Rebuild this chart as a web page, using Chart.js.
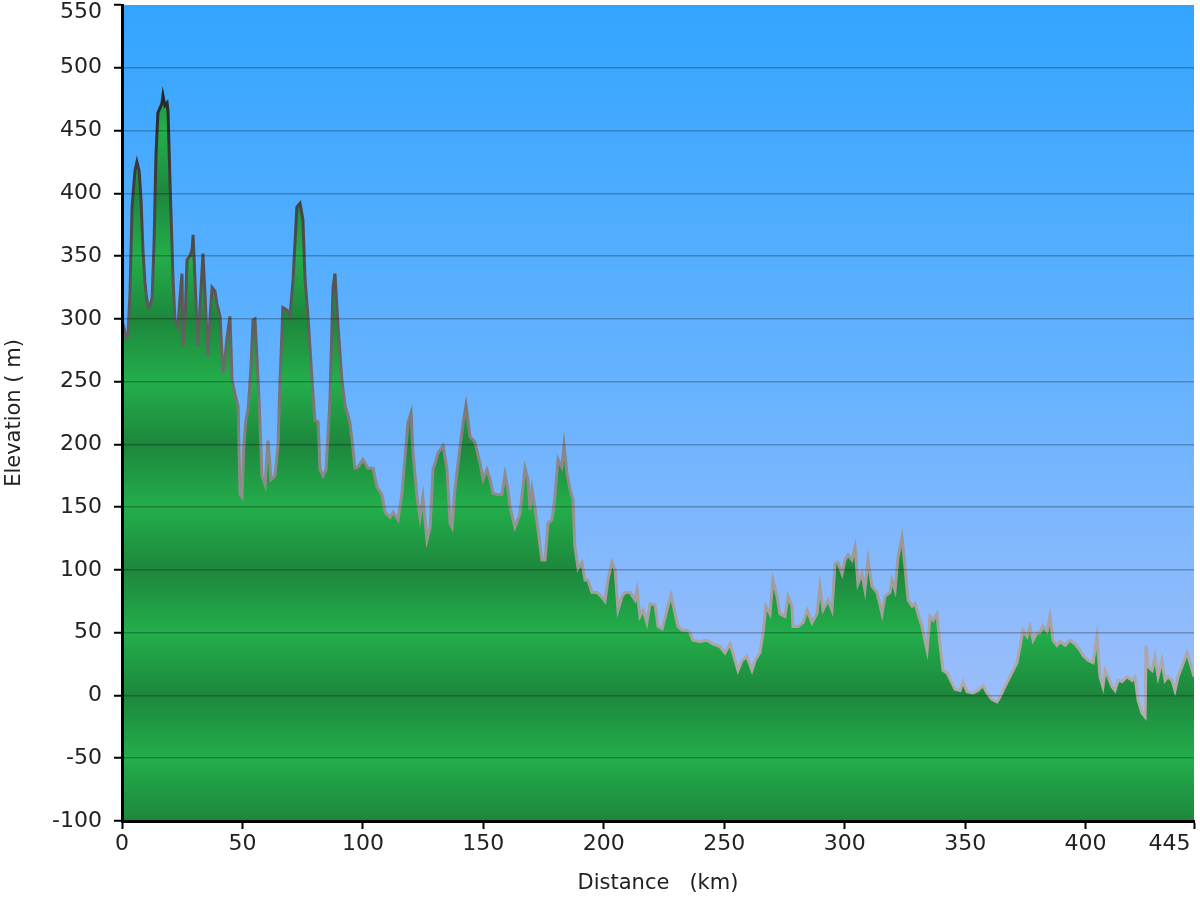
<!DOCTYPE html>
<html>
<head>
<meta charset="utf-8">
<script src="https://cdn.jsdelivr.net/npm/chart.js@4.4.0/dist/chart.umd.min.js"></script>
<style>
  html, body { margin: 0; padding: 0; background: #fff; }
</style>
</head>
<body>
<canvas id="elevChart" width="1200" height="900"></canvas>
<script>
// profile: distance (km) and elevation (m)
let distKm = [
  0, 0.8, 1.7, 2.5, 3.3, 4.2, 5.4, 6.2, 7.1, 7.9, 8.7, 9.5, 10.0, 10.8, 11.6, 12.5,
  13.3, 14.1, 14.9, 15.8, 16.6, 17.0, 17.8, 18.7, 19.1, 19.9, 21.2, 22.0, 23.2, 24.1,
  24.9, 25.3, 26.2, 27.0, 28.2, 29.1, 29.5, 30.3, 31.5, 32.4, 33.6, 34.5, 35.7, 36.5,
  37.4, 38.6, 39.4, 40.7, 41.9, 42.8, 43.6, 44.8, 45.7, 46.9, 48.2, 49.0, 49.8, 50.6,
  51.5, 52.3, 53.5, 54.4, 55.2, 56.0, 56.9, 58.1, 59.4, 60.6, 61.9, 63.5, 64.8, 65.6,
  66.8, 68.5, 69.7, 71.0, 72.6, 73.9, 75.1, 76.0, 77.2, 78.9, 80.1, 81.4, 82.2, 83.4,
  84.7, 86.3, 87.6, 88.4, 89.7, 91.3, 92.6, 93.8, 94.6, 95.5, 96.7, 98.0, 100.0, 102.1,
  104.2, 105.9, 107.9, 109.2, 111.3, 112.5, 114.6, 116.2, 117.5, 118.7, 120.0, 120.8,
  122.5, 123.7, 124.9, 126.6, 127.9, 129.1, 131.2, 133.3, 134.9, 136.2, 137.0, 138.2,
  140.3, 141.6, 142.8, 144.5, 146.5, 148.6, 149.9, 151.5, 152.8, 154.0, 156.1, 157.7,
  159.0, 160.2, 161.1, 163.1, 165.2, 167.3, 168.5, 169.4, 170.2, 171.4, 172.7, 174.3,
  175.6, 176.8, 178.5, 179.7, 181.0, 182.6, 183.5, 184.7, 186.0, 187.2, 188.0, 189.3,
  190.9, 192.2, 193.4, 195.1, 197.2, 199.3, 200.5, 201.7, 203.4, 204.7, 205.9, 207.6,
  208.8, 210.9, 213.0, 213.8, 215.0, 216.3, 217.9, 219.2, 221.3, 222.5, 224.2, 226.2,
  227.9, 229.6, 230.8, 232.5, 234.5, 235.8, 237.0, 239.9, 242.8, 245.3, 248.2, 250.3,
  252.4, 253.6, 255.7, 257.4, 259.4, 261.5, 262.8, 264.8, 266.1, 267.3, 269.0, 270.2,
  271.9, 273.1, 275.2, 276.5, 278.1, 278.5, 280.6, 282.7, 284.4, 286.4, 288.5, 289.7,
  291.0, 293.1, 294.7, 296.0, 297.2, 298.9, 300.1, 301.4, 303.0, 304.3, 305.5, 307.2,
  308.4, 309.7, 311.3, 313.4, 315.5, 316.7, 318.8, 319.6, 320.9, 322.1, 323.8, 325.0,
  326.3, 328.0, 329.2, 330.4, 332.1, 333.3, 334.2, 335.4, 336.7, 338.3, 339.6, 340.8,
  342.5, 344.5, 345.8, 347.9, 349.1, 350.8, 353.3, 355.3, 357.4, 359.1, 361.1, 363.2,
  364.5, 366.5, 368.6, 369.9, 371.5, 372.8, 374.0, 375.7, 376.9, 378.2, 379.8, 381.1,
  382.3, 384.0, 385.2, 386.5, 388.1, 389.4, 391.5, 393.5, 395.6, 397.7, 398.9, 401.0,
  403.1, 404.7, 406.0, 407.2, 408.1, 409.3, 411.0, 412.2, 413.5, 415.1, 417.2, 419.3,
  420.5, 421.8, 423.4, 424.7, 425.1, 425.9, 427.6, 428.8, 430.1, 431.7, 433.0, 434.2,
  435.9, 437.1, 438.4, 440.0, 442.1, 443.4, 445
];
let elevM = [
  290, 293, 285, 287, 320, 390, 418, 425, 418, 395, 355, 330, 320, 309, 310, 317,
  360, 430, 464, 468, 472, 478, 470, 472, 465, 411, 331, 299, 294, 318,
  336, 278, 300, 347, 350, 355, 367, 331, 278, 310, 352, 318, 270, 300,
  325, 322, 312, 302, 257, 270, 285, 302, 251, 240, 230, 160, 158, 200,
  220, 227, 260, 299, 300, 270, 235, 175, 168, 203, 172, 175, 200, 251,
  309, 307, 302, 331, 389, 392, 379, 331, 302, 251, 219, 218, 180, 175,
  180, 235, 325, 336, 294, 251, 231, 223, 217, 203, 181, 182, 188, 181,
  181, 166, 160, 146, 142, 146, 140, 161, 190, 217, 225, 193,
  158, 142, 158, 124, 134, 180, 193, 199, 180, 137, 134, 164,
  198, 217, 231, 206, 202, 185, 172, 180, 172, 161, 160, 160,
  176, 164, 150, 134, 145, 181, 172, 148, 164, 150, 132, 108,
  108, 137, 140, 158, 188, 182, 199, 177, 164, 156, 119, 101,
  106, 92, 92, 82, 82, 78, 75, 92, 106, 100, 68, 79,
  82, 82, 76, 84, 63, 68, 58, 73, 72, 55, 53, 68,
  80, 65, 55, 52, 52, 50, 44, 43, 44, 41, 39, 34,
  41, 34, 20, 28, 31, 20, 28, 34, 50, 71, 65, 92,
  79, 65, 63, 79, 71, 55, 55, 58, 68, 58, 65, 87,
  68, 76, 68, 105, 106, 97, 108, 112, 108, 118, 89, 97,
  84, 108, 87, 82, 65, 79, 82, 92, 84, 110, 126, 103,
  76, 71, 73, 65, 55, 44, 36, 63, 60, 65, 40, 20,
  18, 10, 5, 4, 11, 3, 2, 4, 8, 2, -3, -5,
  -1, 7, 15, 20, 26, 39, 52, 47, 55, 44, 50, 50,
  55, 51, 63, 44, 40, 43, 40, 44, 41, 36, 32, 28,
  26, 47, 15, 7, 20, 15, 7, 4, 12, 11, 15, 12,
  15, -4, -14, -17, 40, 23, 20, 31, 15, 28, 12, 15,
  12, 4, 15, 23, 34, 26, 15
];
let xTicks = [0, 50, 100, 150, 200, 250, 300, 350, 400, 445];
let yTicks = [-100, -50, 0, 50, 100, 150, 200, 250, 300, 350, 400, 450, 500, 550];

const fontFamily = "'DejaVu Sans', Verdana, sans-serif";

const points = distKm.map((d, i) => ({ x: d, y: elevM[i] }));

// green fill: light at the odd fifties, dark at each hundred
function fillGradient(context) {
  const chart = context.chart;
  const area = chart.chartArea;
  const yScale = chart.scales.y;
  if (!area || !yScale) return "#21a046";
  const g = chart.ctx.createLinearGradient(0, area.top, 0, area.bottom);
  const h = area.bottom - area.top;
  yTicks.forEach((v) => {
    const pos = (yScale.getPixelForValue(v) - area.top) / h;
    const col = v % 100 === 0 ? "#1d873c" : "#23ae4b";
    g.addColorStop(Math.min(1, Math.max(0, pos)), col);
  });
  return g;
}

// outline gets darker the higher it goes
function lineGradient(context) {
  const chart = context.chart;
  const area = chart.chartArea;
  const yScale = chart.scales.y;
  if (!area || !yScale) return "#888";
  const g = chart.ctx.createLinearGradient(0, area.top, 0, area.bottom);
  const h = area.bottom - area.top;
  const stops = [[480, "#262626"], [400, "#404040"], [300, "#5c5c5c"], [200, "#868484"], [100, "#a09c9c"], [0, "#b2abab"], [-100, "#b8b0b0"]];
  stops.forEach(([v, col]) => {
    const pos = (yScale.getPixelForValue(v) - area.top) / h;
    g.addColorStop(Math.min(1, Math.max(0, pos)), col);
  });
  return g;
}

const skyPlugin = {
  id: "sky",
  beforeDraw(chart) {
    const { ctx, chartArea: a } = chart;
    const g = ctx.createLinearGradient(0, a.top, 0, a.bottom);
    g.addColorStop(0, "#33a5ff");
    g.addColorStop(0.45, "#64b2ff");
    g.addColorStop(0.8, "#95bcfb");
    g.addColorStop(1, "#a8c2f6");
    ctx.save();
    ctx.fillStyle = g;
    ctx.fillRect(a.left, a.top, a.right - a.left, a.bottom - a.top);
    ctx.restore();
  },
};

new Chart("elevChart", {
  type: "line",
  data: {
    datasets: [
      {
        data: points,
        fill: "start",
        backgroundColor: fillGradient,
        borderColor: lineGradient,
        borderWidth: 3,
        pointRadius: 0,
        tension: 0,
      },
    ],
  },
  options: {
    responsive: false,
    animation: false,
    layout: { padding: { top: 5, right: 6, bottom: 0, left: 0 } },
    plugins: {
      legend: { display: false },
      tooltip: { enabled: false },
    },
    scales: {
      x: {
        type: "linear",
        min: 0,
        max: 445,
        afterBuildTicks: (scale) => {
          scale.ticks = xTicks.map((v) => ({ value: v }));
        },
        afterFit: (scale) => {
          scale.height = 79;
          scale.paddingLeft = 0;
          scale.paddingRight = 0;
        },
        border: { color: "#000", width: 3, z: 2 },
        grid: {
          drawOnChartArea: false,
          tickColor: "#000",
          tickLength: 8,
          tickWidth: 2,
        },
        ticks: {
          autoSkip: false,
          maxRotation: 0,
          padding: 2,
          color: "#222",
          font: { family: fontFamily, size: 22 },
          callback: (v) => (v === 445 ? "445       " : String(v)),
        },
        title: {
          display: true,
          text: "Distance   (km)",
          color: "#222",
          font: { family: fontFamily, size: 21 },
          padding: { top: 0, bottom: 4 },
        },
      },
      y: {
        min: -100,
        max: 550,
        afterBuildTicks: (scale) => {
          scale.ticks = yTicks.map((v) => ({ value: v }));
        },
        afterFit: (scale) => {
          scale.width = 122;
          scale.paddingTop = 0;
          scale.paddingBottom = 0;
        },
        border: { color: "#000", width: 3, z: 2 },
        grid: {
          z: 1,
          color: (c) => (c.tick && (c.tick.value === 550 || c.tick.value === -100) ? "rgba(0,0,0,0)" : "rgba(0,0,0,0.25)"),
          lineWidth: 1.5,
          tickColor: "#000",
          tickLength: 8,
          tickWidth: 2,
        },
        ticks: {
          padding: 12,
          color: "#222",
          font: (c) =>
            c.tick && c.tick.value === 550
              ? { family: fontFamily, size: 22, lineHeight: "14px" }
              : { family: fontFamily, size: 22 },
          callback: (v) => (v === 550 ? ["", "550"] : String(v)),
        },
        title: {
          display: true,
          text: "Elevation ( m)",
          color: "#222",
          font: { family: fontFamily, size: 21 },
          padding: { top: 2, bottom: 0 },
        },
      },
    },
  },
  plugins: [skyPlugin],
});
</script>
</body>
</html>
